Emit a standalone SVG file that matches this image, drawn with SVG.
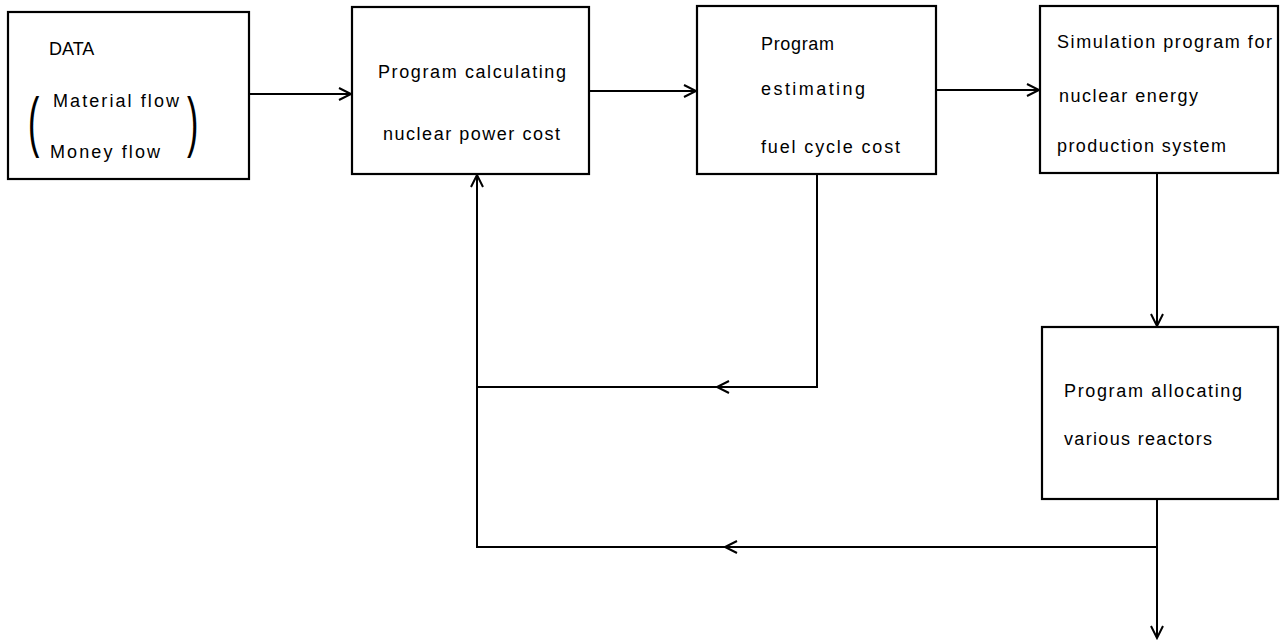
<svg xmlns="http://www.w3.org/2000/svg" width="1282" height="640" viewBox="0 0 1282 640">
<defs>
<style>
.box{fill:#fff;stroke:#000;stroke-width:2.2}
.t{font-family:"Liberation Sans",Arial,sans-serif;font-size:18px;fill:#000}
.c{fill:none;stroke:#000;stroke-width:2}
.p{font-family:"Liberation Sans",Arial,sans-serif;font-size:34px;fill:#000}
</style>
<marker id="ah" markerUnits="userSpaceOnUse" markerWidth="16" markerHeight="16" refX="13" refY="7" orient="auto">
<path d="M1,1 L13,7 L1,13" fill="none" stroke="#000" stroke-width="2"/>
</marker>
</defs>
<rect width="1282" height="640" fill="#fff"/>
<g id="connectors">
<path class="c" d="M249,94 H351" marker-end="url(#ah)"/>
<path class="c" d="M589,91 H696" marker-end="url(#ah)"/>
<path class="c" d="M936,90 H1039" marker-end="url(#ah)"/>
<path class="c" d="M1157,173 V326" marker-end="url(#ah)"/>
<path class="c" d="M817,174 V387 H717" marker-end="url(#ah)"/>
<path class="c" d="M717,387 H477"/>
<path class="c" d="M1157,547 H725" marker-end="url(#ah)"/>
<path class="c" d="M725,547 H477 V175" marker-end="url(#ah)"/>
<path class="c" d="M1157,499 V638" marker-end="url(#ah)"/>
</g>
<g id="data">
<rect class="box" x="8" y="12" width="241" height="167"/>
<text class="t" x="49" y="55">DATA</text>
<text class="t" x="53" y="107" textLength="126" lengthAdjust="spacing">Material flow</text>
<text class="t" x="50" y="158" textLength="110" lengthAdjust="spacing">Money flow</text>
<text class="p" transform="translate(28,144) scale(1,1.95)">(</text>
<text class="p" transform="translate(187,144) scale(1,1.95)">)</text>
</g>
<g id="power-cost">
<rect class="box" x="352" y="7" width="237" height="167"/>
<text class="t" x="378" y="78" textLength="188" lengthAdjust="spacing">Program calculating</text>
<text class="t" x="383" y="140" textLength="177" lengthAdjust="spacing">nuclear power cost</text>
</g>
<g id="fuel-cycle">
<rect class="box" x="697" y="6" width="239" height="168"/>
<text class="t" x="761" y="50" textLength="73" lengthAdjust="spacing">Program</text>
<text class="t" x="761" y="95" textLength="104" lengthAdjust="spacing">estimating</text>
<text class="t" x="761" y="153" textLength="139" lengthAdjust="spacing">fuel cycle cost</text>
</g>
<g id="simulation">
<rect class="box" x="1040" y="6" width="238" height="167"/>
<text class="t" x="1057" y="48" textLength="215" lengthAdjust="spacing">Simulation program for</text>
<text class="t" x="1059" y="102" textLength="139" lengthAdjust="spacing">nuclear energy</text>
<text class="t" x="1057" y="152" textLength="169" lengthAdjust="spacing">production system</text>
</g>
<g id="allocating">
<rect class="box" x="1042" y="327" width="236" height="172"/>
<text class="t" x="1064" y="397" textLength="178" lengthAdjust="spacing">Program allocating</text>
<text class="t" x="1064" y="445" textLength="148" lengthAdjust="spacing">various reactors</text>
</g>
</svg>
